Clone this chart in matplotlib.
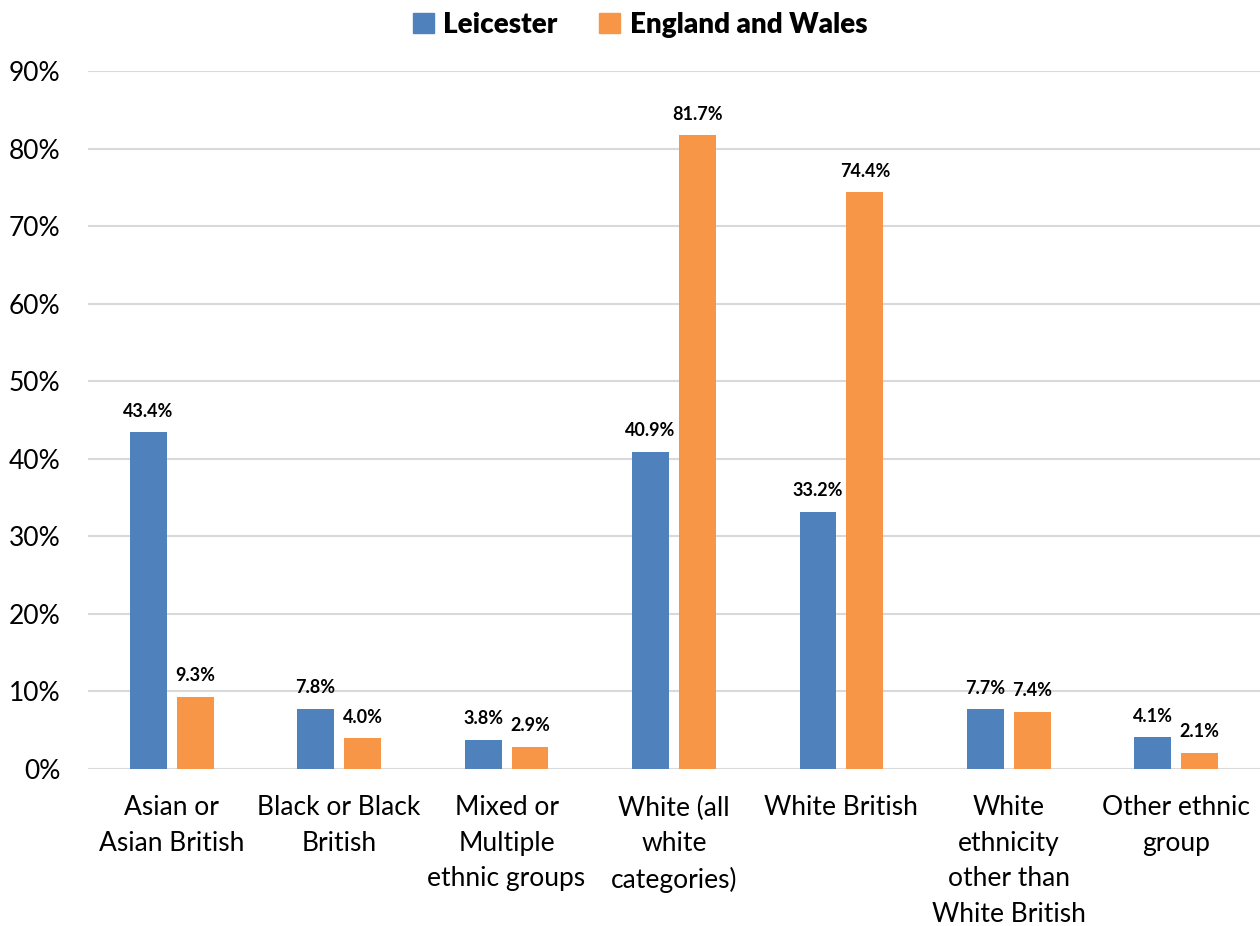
import numpy as np
import matplotlib.pyplot as plt
from matplotlib.ticker import PercentFormatter
from matplotlib.patches import Patch

plt.rcParams['font.family'] = ['Lato', 'DejaVu Sans']

categories = ['Asian or\nAsian British', 'Black or Black\nBritish',
              'Mixed or\nMultiple\nethnic groups', 'White (all\nwhite\ncategories)',
              'White British', 'White\nethnicity\nother than\nWhite British',
              'Other ethnic\ngroup']
leicester = [43.4, 7.8, 3.8, 40.9, 33.2, 7.7, 4.1]
england_wales = [9.3, 4.0, 2.9, 81.7, 74.4, 7.4, 2.1]
series_names = ['Leicester', 'England and Wales']

blue = '#4F81BD'
orange = '#F79646'

fig = plt.figure(figsize=(12.6, 9.26), dpi=100)
ax = fig.add_axes([0.0698, 0.1695, 0.9302, 0.7538])

x = np.arange(len(categories))
w = 0.22
off = 0.14
b1 = ax.bar(x - off, leicester, w, color=blue, zorder=3)
b2 = ax.bar(x + off, england_wales, w, color=orange, zorder=3)

for bars, vals in ((b1, leicester), (b2, england_wales)):
    for bar, v in zip(bars, vals):
        ax.annotate(f'{v:.1f}%', (bar.get_x() + bar.get_width() / 2, v),
                    xytext=(0, 9), textcoords='offset points',
                    ha='center', va='bottom', fontsize=13, fontweight='bold')

ax.set_xlim(-0.5, len(categories) - 0.5)
ax.set_ylim(0, 90)
ax.set_yticks(np.arange(0, 91, 10))
ax.yaxis.set_major_formatter(PercentFormatter(decimals=0))
ax.set_xticks(x)
ax.set_xticklabels(categories, linespacing=1.52)
ax.tick_params(axis='both', length=0, labelsize=19)
ax.tick_params(axis='x', pad=19)
ax.tick_params(axis='y', pad=20)
ax.grid(axis='y', color='#D9D9D9', linewidth=1.5, zorder=0)
for s in ax.spines.values():
    s.set_visible(False)

handles = [Patch(color=blue), Patch(color=orange)]
leg = fig.legend(handles, series_names, loc='center', bbox_to_anchor=(0.508, 0.973),
                 ncol=2, frameon=False, handlelength=0.75, handleheight=0.75,
                 handletextpad=0.35, columnspacing=1.5,
                 prop={'size': 20, 'weight': 'heavy'})

fig.savefig('out.png', dpi=100)
